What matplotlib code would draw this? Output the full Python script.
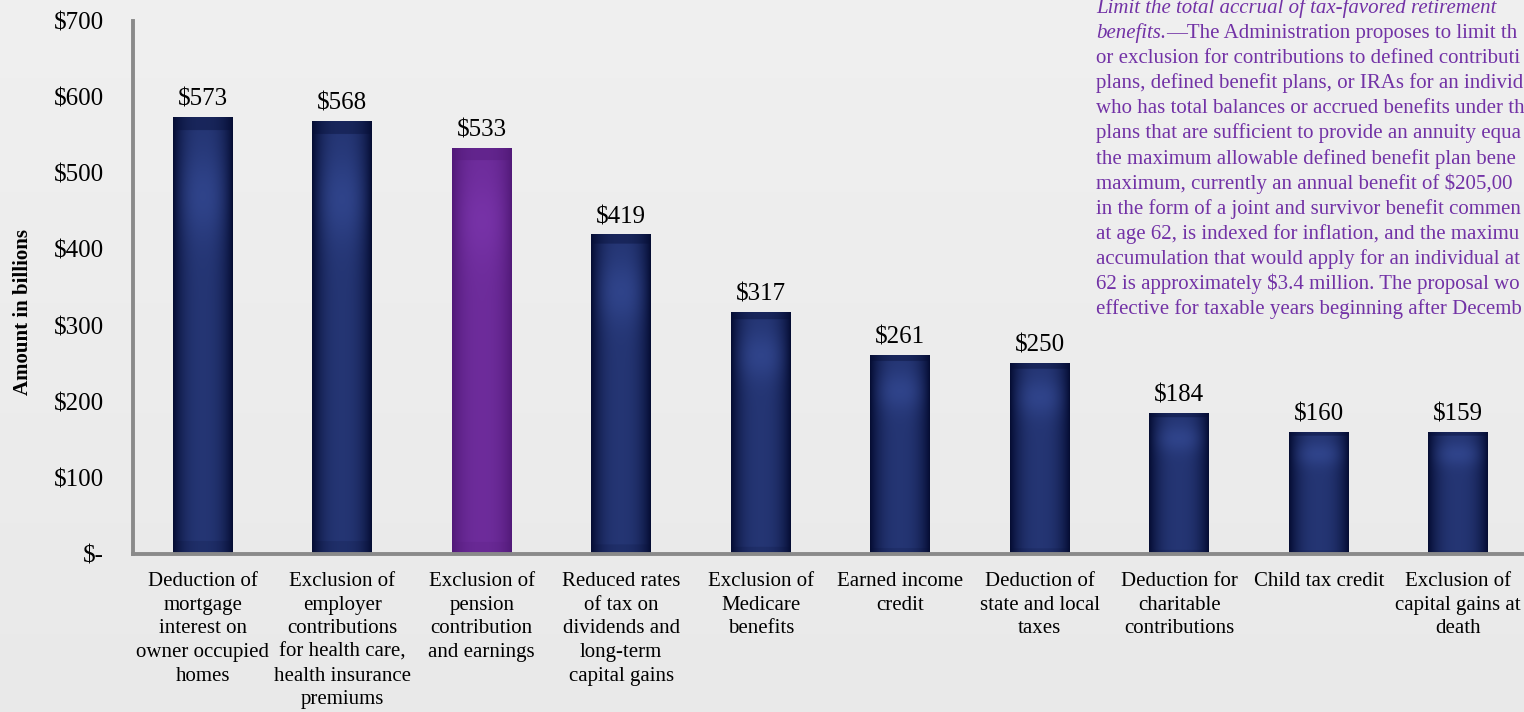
import numpy as np
import matplotlib.pyplot as plt

plt.rcParams['font.family'] = ['Liberation Serif', 'DejaVu Serif']
plt.rcParams['text.parse_math'] = False

categories = ['Deduction of\nmortgage\ninterest on\nowner occupied\nhomes',
              'Exclusion of\nemployer\ncontributions\nfor health care,\nhealth insurance\npremiums',
              'Exclusion of\npension\ncontribution\nand earnings',
              'Reduced rates\nof tax on\ndividends and\nlong-term\ncapital gains',
              'Exclusion of\nMedicare\nbenefits',
              'Earned income\ncredit',
              'Deduction of\nstate and local\ntaxes',
              'Deduction for\ncharitable\ncontributions',
              'Child tax credit',
              'Exclusion of\ncapital gains at\ndeath']
values = [573, 568, 533, 419, 317, 261, 250, 184, 160, 159]
highlight = 2  # pension bar

yticks = [0, 100, 200, 300, 400, 500, 600, 700]
ytick_labels = ['$-', '$100', '$200', '$300', '$400', '$500', '$600', '$700']

# note pasted at the top right, cut by the slide edge as in the source
note_title = 'Limit the total accrual of tax-favored retirement'
note_title2 = 'benefits.'
note_first = '\u2014The Administration proposes to limit th'
note_lines = [
    'or exclusion for contributions to defined contributi',
    'plans, defined benefit plans, or IRAs for an individ',
    'who has total balances or accrued benefits under th',
    'plans that are sufficient to provide an annuity equa',
    'the maximum allowable defined benefit plan bene',
    'maximum, currently an annual benefit of $205,00',
    'in the form of a joint and survivor benefit commen',
    'at age 62, is indexed for inflation, and the maximu',
    'accumulation that would apply for an individual at',
    '62 is approximately $3.4 million. The proposal wo',
    'effective for taxable years beginning after Decemb',
]

W, H = 1524, 712
fig = plt.figure(figsize=(W / 100, H / 100), dpi=100)

# background, light grey slightly darker toward the bottom
bg = fig.add_axes([0, 0, 1, 1], zorder=-10)
grad = np.linspace(0.94, 0.915, 200)[:, None] * np.ones((1, 2))
bg.imshow(np.dstack([grad, grad, grad]), aspect='auto', extent=[0, 1, 0, 1])
bg.set_axis_off()

ax = fig.add_axes([133 / W, (H - 554) / H, 1395 / W, (554 - 21) / H])
ax.patch.set_alpha(0)

x = np.arange(len(values))
width = 0.43
bars = ax.bar(x, values, width=width, color='none', edgecolor='none')


def bar_gradient(dark, light, n=120):
    xs = np.linspace(0, 1, n)
    ys = np.linspace(1, 0, 300)
    hx = 1 - np.abs(2 * xs - 1) ** 2.5
    hx[:2] *= 0.3
    hx[-2:] *= 0.3
    vy = 0.72 + 0.25 * np.exp(-((ys - 0.82) / 0.1) ** 2)
    vy[ys > 0.97] = 0.45
    vy[ys < 0.03] = 0.6
    t = hx[None, :] * vy[:, None]
    dark = np.array(dark)[None, None, :]
    light = np.array(light)[None, None, :]
    return dark + (light - dark) * t[:, :, None]


navy = bar_gradient((0.02, 0.05, 0.20), (0.19, 0.27, 0.55))
purple = bar_gradient((0.32, 0.10, 0.47), (0.47, 0.20, 0.66))

for i, b in enumerate(bars):
    img = purple if i == highlight else navy
    ax.imshow(img, extent=[b.get_x(), b.get_x() + b.get_width(), 0, b.get_height()],
              aspect='auto', zorder=2)
    ax.annotate(f'${values[i]}', (b.get_x() + b.get_width() / 2, b.get_height()),
                xytext=(0, 5), textcoords='offset points', ha='center', va='bottom',
                fontsize=18, color='black')

ax.set_xlim(-0.5, len(values) - 0.5)
ax.set_ylim(0, 700)
ax.set_yticks(yticks)
ax.set_yticklabels(ytick_labels)
ax.set_xticks(x)
ax.set_xticklabels(categories, fontsize=15, linespacing=1.33, va='top')
ax.tick_params(axis='y', length=0, pad=21, labelsize=18)
ax.tick_params(axis='x', length=0, pad=13)
for s in ['top', 'right']:
    ax.spines[s].set_visible(False)
for s in ['left', 'bottom']:
    ax.spines[s].set_color('#8a8a8a')
    ax.spines[s].set_linewidth(2.8)
ax.set_ylabel('Amount in billions', fontsize=15, fontweight='bold')
ax.yaxis.set_label_coords(-0.072, 0.454)

pc = '#7232a6'
x0 = 1096 / W
def ypos(i):
    return 1 - (8 + 25.1 * i) / H

fig.text(x0, ypos(0), note_title, fontsize=15, style='italic', color=pc, va='center')
t2 = fig.text(x0, ypos(1), note_title2, fontsize=15, style='italic', color=pc, va='center')
ax.annotate(note_first, xy=(1, 0.5), xycoords=t2, va='center', ha='left',
            fontsize=15, color=pc, annotation_clip=False)
for i, line in enumerate(note_lines):
    fig.text(x0, ypos(i + 2), line, fontsize=15, color=pc, va='center')

fig.savefig('out.png', dpi=100, facecolor=fig.get_facecolor())
